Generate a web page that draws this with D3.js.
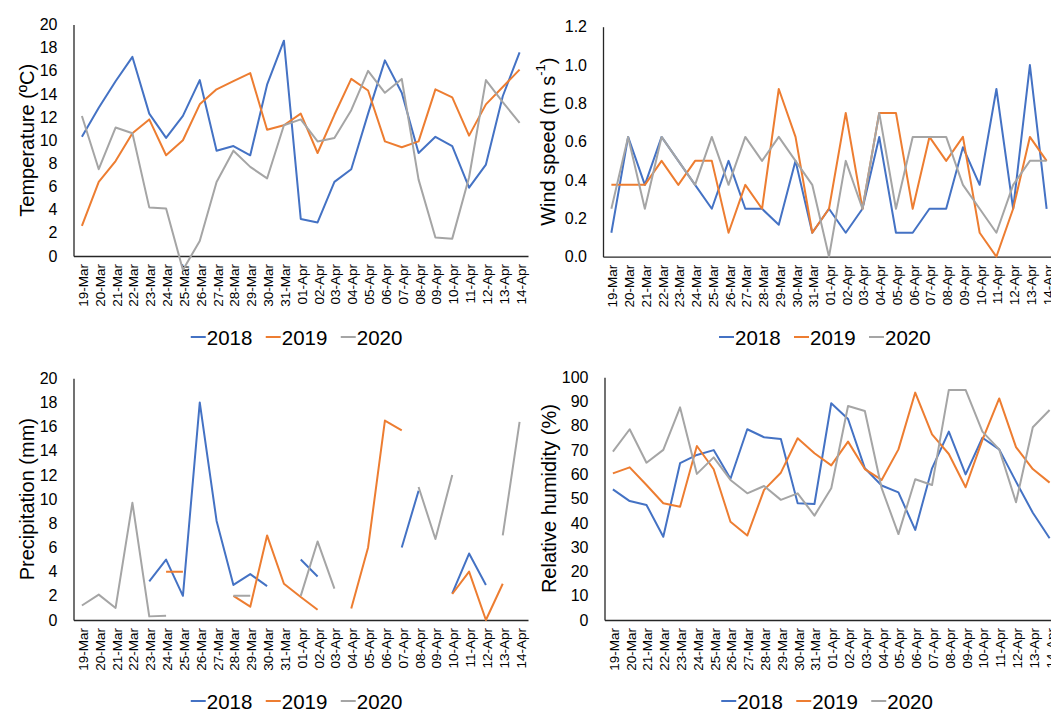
<!DOCTYPE html>
<html>
<head>
<style>
  body { margin: 0; background: #fff; }
  svg text { font-family: "Liberation Sans", Arial, sans-serif; fill: #000; }
</style>
<script src="https://d3js.org/d3.v7.min.js"></script>
</head>
<body>
<script>
const dates = ["19-Mar","20-Mar","21-Mar","22-Mar","23-Mar","24-Mar","25-Mar","26-Mar","27-Mar","28-Mar","29-Mar","30-Mar","31-Mar",
  "01-Apr","02-Apr","03-Apr","04-Apr","05-Apr","06-Apr","07-Apr","08-Apr","09-Apr","10-Apr","11-Apr","12-Apr","13-Apr","14-Apr"];
const years = ["2018", "2019", "2020"];

const temp2018 = [10.3,12.8,15.1,17.2,12.3,10.2,12.1,15.2,9.1,9.5,8.7,14.8,18.6, 3.2,2.9,6.4,7.5,12.3,16.9,14.1,8.9,10.3,9.5,5.9,7.9,13.8,17.6];
const temp2019 = [2.6,6.4,8.2,10.6,11.8,8.7,10.0,13.1,14.4,15.1,15.8,10.9,11.3, 12.3,8.9,12.2,15.3,14.3,9.9,9.4,9.9,14.4,13.7,10.4,13.1,14.6,16.1];
const temp2020 = [12.1,7.5,11.1,10.6,4.2,4.1,-1.2,1.3,6.4,9.1,7.7,6.7,11.3, 11.8,9.9,10.2,12.6,16.0,14.1,15.3,6.6,1.6,1.5,6.8,15.2,13.3,11.5];

const wind2018 = [0.125,0.625,0.375,0.625,0.5,0.375,0.25,0.5,0.25,0.25,0.167,0.5,0.125, 0.25,0.125,0.25,0.625,0.125,0.125,0.25,0.25,0.571,0.375,0.875,0.25,1.0,0.25];
const wind2019 = [0.375,0.375,0.375,0.5,0.375,0.5,0.5,0.125,0.375,0.25,0.875,0.625,0.125, 0.25,0.75,0.25,0.75,0.75,0.25,0.625,0.5,0.625,0.125,0,0.25,0.625,0.5];
const wind2020 = [0.25,0.625,0.25,0.625,0.5,0.375,0.625,0.375,0.625,0.5,0.625,0.5,0.375, 0,0.5,0.25,0.75,0.25,0.625,0.625,0.625,0.375,0.25,0.125,0.375,0.5,0.5];

const prec2018 = [null,null,null,null,3.2,5.0,2.0,18.0,8.2,2.9,3.8,2.8,null, 5.0,3.6,null,null,null,null,6.0,10.7,null,2.2,5.5,2.9,null,null];
const prec2019 = [null,null,null,null,null,4.0,4.0,null,null,2.0,1.1,7.0,3.0, 1.9,0.85,null,0.95,6.0,16.5,15.7,null,null,2.15,4.0,0,3.0,null];
const prec2020 = [1.2,2.1,1.0,9.7,0.3,0.35,null,null,null,2.0,2.0,null,null, 2.0,6.5,2.6,null,null,null,null,11.0,6.7,12.0,null,null,7.0,16.4];

const rh2018 = [53.8,49.0,47.4,34.3,64.6,68.0,70.0,58.2,78.6,75.3,74.6,48.1,47.8, 89.3,82.8,62.5,55.4,52.6,37.1,62.5,77.6,60.0,75.1,70.3,57.0,44.2,33.7];
const rh2019 = [60.4,62.9,55.6,48.1,46.7,71.7,62.1,40.5,34.8,53.6,60.7,74.9,68.7, 63.7,73.5,62.2,57.7,70.3,93.7,76.5,68.4,54.7,74.2,91.3,71.2,62.2,56.6];
const rh2020 = [69.4,78.6,64.8,70.1,87.6,60.2,67.0,57.7,52.2,55.2,49.5,52.2,43.0, 54.3,88.2,86.1,54.3,35.4,58.0,55.6,94.8,94.8,77.6,70.3,48.5,79.4,86.5];

const colors = ["#4472C4", "#ED7D31", "#A5A5A5"];

const W = 1051, H = 711;
const svg = d3.select("body").append("svg").attr("width", W).attr("height", H);

// one entry per panel
const panels = [
  {series: [temp2018, temp2019, temp2020], dom: [0, 20], step: 2, fmt: d3.format("d"),
   x0: 73.5, x1: 528, top: 24.5, bot: 256, tx: 27, title: "Temperature (ºC)", ly: 337},
  {series: [wind2018, wind2019, wind2020], dom: [0, 1.2], step: 0.2, fmt: d3.format(".1f"),
   x0: 603, x1: 1055, top: 26.7, bot: 256.7, tx: 548, title: null, ly: 337},
  {series: [prec2018, prec2019, prec2020], dom: [0, 20], step: 2, fmt: d3.format("d"),
   x0: 73.5, x1: 528, top: 378.3, bot: 620, tx: 27, title: "Precipitation (mm)", ly: 701},
  {series: [rh2018, rh2019, rh2020], dom: [0, 100], step: 10, fmt: d3.format("d"),
   x0: 604.5, x1: 1058, top: 377.3, bot: 620, tx: 549, title: "Relative humidity (%)", ly: 701}
];

panels.forEach((p, pi) => {
  const g = svg.append("g");
  const x = d3.scaleBand().domain(dates).range([p.x0, p.x1]);
  const y = d3.scaleLinear().domain(p.dom).range([p.bot, p.top]);
  const ticks = d3.range(p.dom[0], p.dom[1] + p.step / 2, p.step);

  // y axis
  const ya = g.append("g").attr("transform", `translate(${p.x0},0)`)
    .call(d3.axisLeft(y).tickValues(ticks).tickFormat(p.fmt).tickSize(0).tickPadding(16));
  ya.select(".domain").attr("stroke", "#262626").attr("stroke-width", 1.3);
  ya.selectAll("text").style("font-size", "16px").style("font-family", '"Liberation Sans", Arial, sans-serif').attr("fill", "#000");

  // x axis
  const xa = g.append("g").attr("transform", `translate(0,${p.bot})`)
    .call(d3.axisBottom(x).tickSize(0).tickSizeOuter(0));
  xa.select(".domain").attr("stroke", "#262626").attr("stroke-width", 1.3);
  xa.selectAll("text")
    .style("font-size", "13.5px").style("font-family", '"Liberation Sans", Arial, sans-serif').attr("fill", "#000")
    .attr("text-anchor", "end")
    .attr("dy", null)
    .attr("y", 0)
    .attr("dominant-baseline", "central")
    .attr("transform", "translate(1.5,8) rotate(-90)");

  // lines
  const line = d3.line()
    .defined(d => d != null)
    .x((d, i) => x(dates[i]) + x.bandwidth() / 2)
    .y(d => y(d));
  p.series.forEach((s, si) => {
    g.append("path").datum(s)
      .attr("fill", "none").attr("stroke", colors[si]).attr("stroke-width", 2)
      .attr("stroke-linejoin", "round")
      .attr("d", line);
  });

  // y title
  const cy = (p.top + p.bot) / 2;
  const t = g.append("text")
    .attr("transform", `translate(${p.tx},${cy}) rotate(-90)`)
    .attr("text-anchor", "middle").attr("dominant-baseline", "central")
    .style("font-size", "20px");
  if (p.title) {
    t.text(p.title);
  } else {
    t.append("tspan").text("Wind speed (m s");
    t.append("tspan").attr("baseline-shift", "super").style("font-size", "13px").text("-1");
    t.append("tspan").text(")");
  }

  // legend
  const itemW = 75, total = itemW * 2 + 62;
  const lx = (p.x0 + p.x1) / 2 - total / 2 - 4;
  years.forEach((yr, i) => {
    const ix = lx + i * itemW;
    g.append("line").attr("x1", ix).attr("x2", ix + 15).attr("y1", p.ly).attr("y2", p.ly)
      .attr("stroke", colors[i]).attr("stroke-width", 2);
    g.append("text").attr("x", ix + 16).attr("y", p.ly)
      .attr("dominant-baseline", "central").style("font-size", "20.5px").text(yr);
  });
});
</script>
</body>
</html>
